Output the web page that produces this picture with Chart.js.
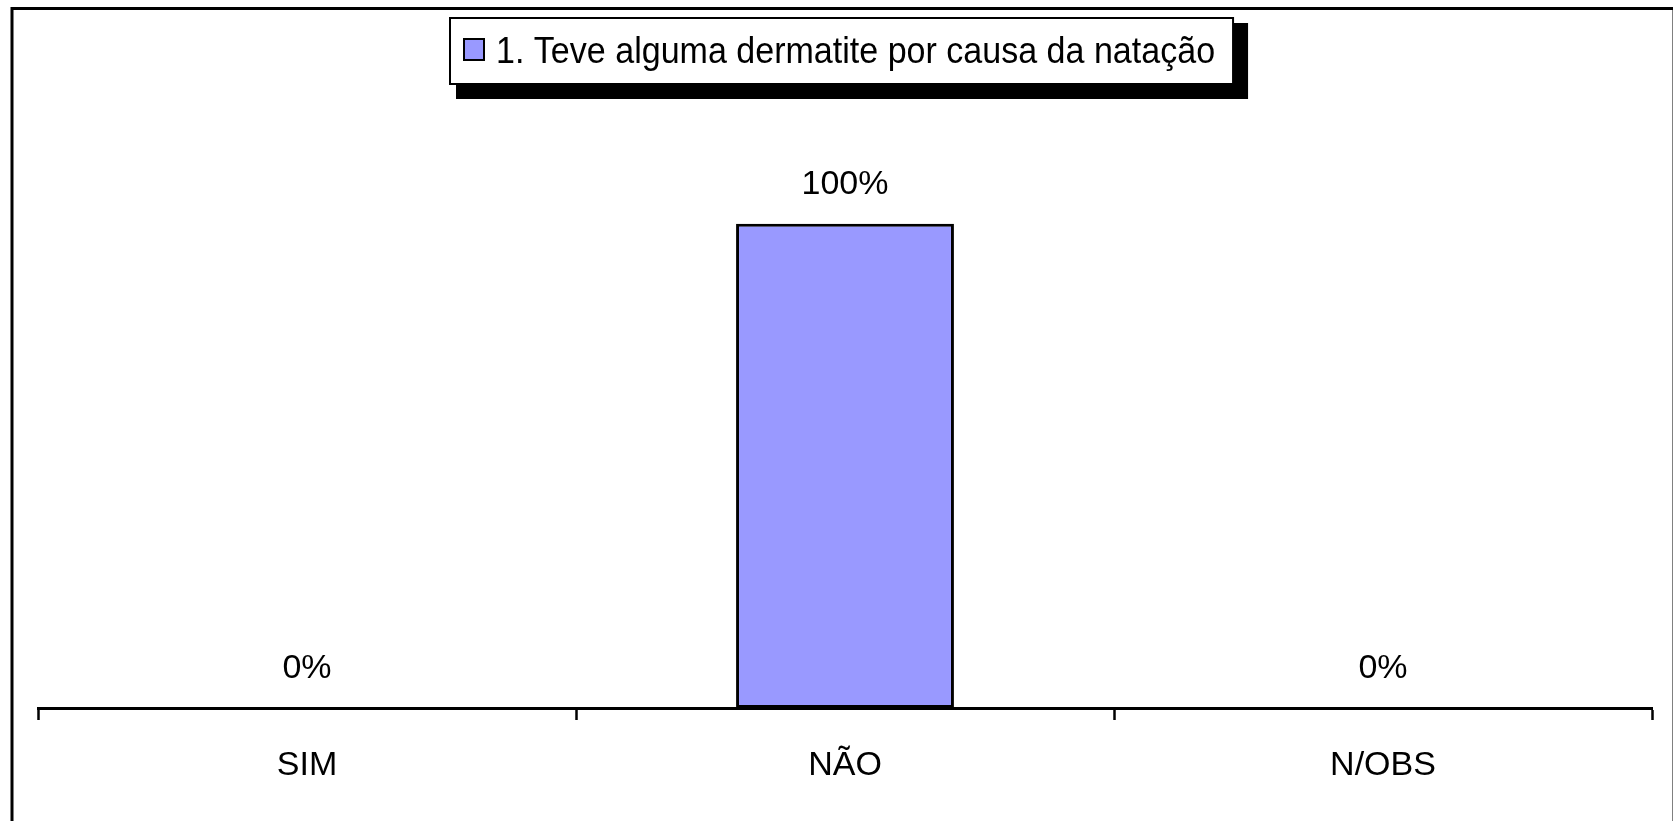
<!DOCTYPE html>
<html>
<head>
<meta charset="utf-8">
<script src="https://cdn.jsdelivr.net/npm/chart.js@4.4.0/dist/chart.umd.min.js"></script>
<style>
    html, body { margin: 0; padding: 0; background: #fff; overflow: hidden; }
</style>
</head>
<body>
<canvas id="myChart" width="1673" height="821"></canvas>
<script>
var categories = ['SIM', 'NÃO', 'N/OBS'];
var percentValues = [0, 100, 0];
var seriesLabel = '1. Teve alguma dermatite por causa da natação';

var FONT = '"Liberation Sans", Arial, sans-serif';
var BAR_COLOR = '#9999FF';

// fundo branco e moldura
var framePlugin = {
    id: 'frame',
    beforeDraw: function (chart) {
        const ctx = chart.ctx;
        ctx.save();
        ctx.fillStyle = '#fff';
        ctx.fillRect(0, 0, chart.width, chart.height);
        ctx.strokeStyle = '#000';
        ctx.lineWidth = 3;
        ctx.strokeRect(12, 8.5, chart.width - 11, chart.height + 20);
        ctx.restore();
    },
    afterDraw: function (chart) {
        // legenda com sombra
        const ctx = chart.ctx;
        const label = chart.data.datasets[0].label;
        ctx.save();
        ctx.font = '37px ' + FONT;
        const sx = 0.92;
        const w = ctx.measureText(label).width * sx;
        const boxW = 46 + w + 18;
        const boxH = 66;
        const left = Math.round(chart.width / 2 + 5 - boxW / 2);
        const top = 18;
        ctx.fillStyle = '#000';
        ctx.fillRect(left + 6, top + 5, boxW + 9, boxH + 10);
        ctx.fillStyle = '#fff';
        ctx.fillRect(left, top, boxW, boxH);
        ctx.strokeStyle = '#000';
        ctx.lineWidth = 2;
        ctx.strokeRect(left, top, boxW, boxH);
        ctx.fillStyle = chart.data.datasets[0].backgroundColor;
        ctx.fillRect(left + 14, top + 21, 20, 21);
        ctx.strokeRect(left + 14, top + 21, 20, 21);
        ctx.fillStyle = '#000';
        ctx.textBaseline = 'alphabetic';
        ctx.translate(left + 46, top + 45);
        ctx.scale(sx, 1);
        ctx.fillText(label, 0, 0);
        ctx.restore();
    }
};

// rótulos de valor em cima das barras
var valueLabels = {
    id: 'valueLabels',
    afterDatasetsDraw: function (chart) {
        const ctx = chart.ctx;
        const meta = chart.getDatasetMeta(0);
        ctx.save();
        ctx.font = '34px ' + FONT;
        ctx.fillStyle = '#000';
        ctx.textAlign = 'center';
        ctx.textBaseline = 'alphabetic';
        meta.data.forEach((bar, i) => {
            ctx.fillText(chart.data.datasets[0].data[i] + '%', bar.x, bar.y - 30);
        });
        ctx.restore();
    }
};

const ctx = document.getElementById('myChart').getContext('2d');

var myChart = new Chart(ctx, {
    type: 'bar',
    data: {
        labels: categories,
        datasets: [{
            label: seriesLabel,
            data: percentValues,
            backgroundColor: BAR_COLOR,
            borderColor: '#000',
            borderWidth: 3,
            borderSkipped: false,
            barPercentage: 0.405,
            categoryPercentage: 1
        }]
    },
    options: {
        responsive: false,
        animation: false,
        devicePixelRatio: 1,
        layout: {
            padding: { top: 127, left: 38, right: 21, bottom: 0 }
        },
        scales: {
            x: {
                offset: true,
                grid: {
                    offset: true,
                    drawOnChartArea: false,
                    drawTicks: true,
                    tickLength: 12,
                    tickWidth: 2.5,
                    tickColor: '#000',
                    color: '#000'
                },
                border: { display: true, color: '#000', width: 3 },
                ticks: {
                    color: '#000',
                    font: { family: FONT, size: 34 },
                    padding: 25
                },
                afterFit: function (scale) { scale.height = 113; }
            },
            y: {
                display: false,
                min: 0,
                max: 120
            }
        },
        plugins: {
            legend: { display: false },
            tooltip: { enabled: false }
        }
    },
    plugins: [framePlugin, valueLabels]
});
</script>
</body>
</html>
